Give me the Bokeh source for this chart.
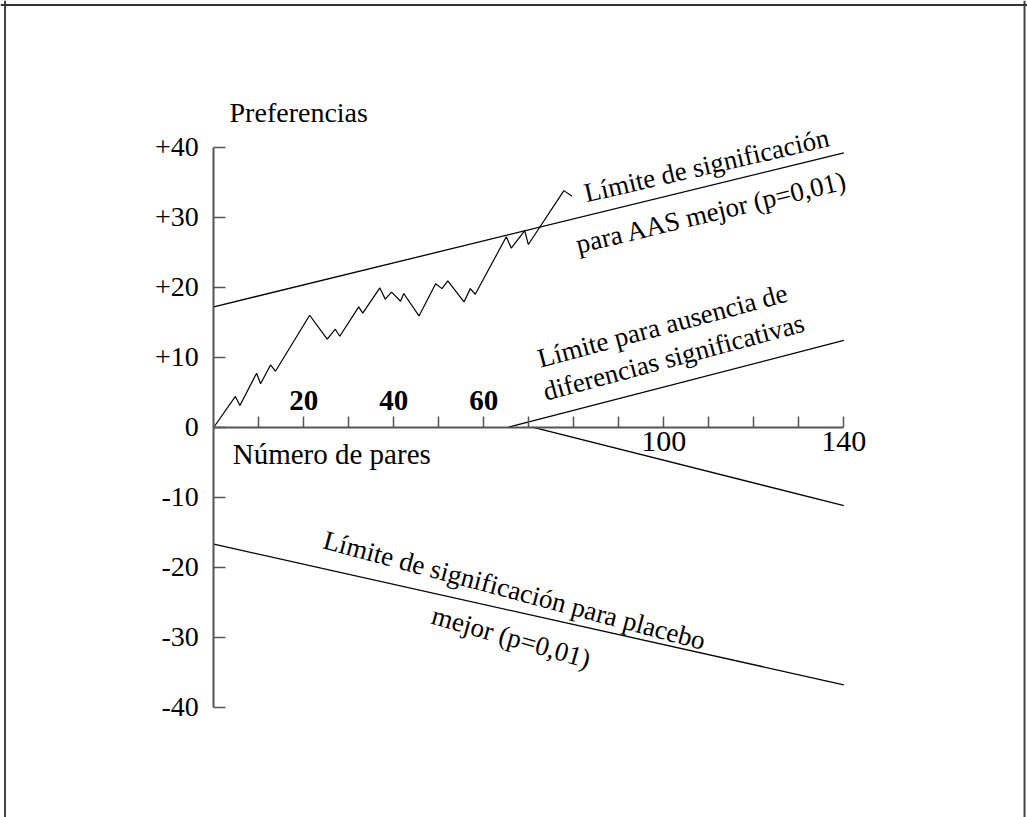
from bokeh.plotting import figure
from bokeh.models import Range1d, LinearAxis, FixedTicker, Span
from bokeh.core.properties import value
from bokeh.embed import file_html
from bokeh.resources import INLINE

# ---- data ----
walk_x = [0, 4.8, 5.8, 9.5, 10.4, 12.6, 13.7, 21.3, 25.2, 27.0, 28.0, 32.2, 33.1,
          36.9, 38.1, 39.5, 41.5, 42.2, 45.6, 49.3, 50.7, 52.0, 55.6, 57.0, 58.1,
          65.0, 66.1, 69.1, 69.9, 77.8, 79.6]
walk_y = [0, 4.4, 3.1, 7.7, 6.2, 8.9, 8.0, 16.0, 12.6, 14.0, 13.0, 17.2, 16.3,
          19.9, 18.3, 19.3, 18.0, 19.1, 15.9, 20.5, 19.8, 20.9, 17.9, 19.8, 19.0,
          27.2, 25.6, 28.1, 26.1, 33.8, 33.0]

upper_x = [0, 140]
upper_y = [17.2, 39.2]
lower_x = [0, 140]
lower_y = [-16.7, -36.8]
mid_up_x = [65.5, 140]
mid_up_y = [0, 12.4]
mid_dn_x = [70.8, 140]
mid_dn_y = [0, -11.2]

x_ticks = [10, 20, 30, 40, 50, 60, 70, 80, 90, 100, 110, 120, 130, 140]
x_labels_below = [100, 140]
x_labels_above = [20, 40, 60]
y_ticks = [-40, -30, -20, -10, 0, 10, 20, 30, 40]
y_labels = ["-40", "-30", "-20", "-10", "0", "+10", "+20", "+30", "+40"]

# rotated annotations: text, x, y, angle (deg)
notes_text = ["Límite de significación", "para AAS mejor (p=0,01)",
              "Límite para ausencia de", "diferencias significativas",
              "Límite de significación para placebo", "mejor (p=0,01)"]
notes_x = [109.5, 110.6, 99.7, 102.2, 66.8, 66.1]
notes_y = [37.4, 30.7, 14.5, 10.0, -23.3, -30.0]
notes_angle = [13.0, 13.5, 15.0, 15.0, -15.0, -16.0]

FONT = "Liberation Serif"
AX = "#555555"

x_start, x_end = -47.4, 180.82
y_start, y_end = -55.75, 60.96

p = figure(width=1027, height=817, output_backend="svg", toolbar_location=None,
           x_range=Range1d(x_start, x_end), y_range=Range1d(y_start, y_end),
           x_axis_type=None, y_axis_type=None, min_border=0)
p.outline_line_color = None
p.background_fill_color = "white"
p.border_fill_color = "white"

# frame border (top, left, right)
p.add_layout(Span(location=x_start + 1.0, dimension="height", line_color="#444444", line_width=2))
p.add_layout(Span(location=x_end - 0.66, dimension="height", line_color="#444444", line_width=2))
p.add_layout(Span(location=y_end - 0.64, dimension="width", line_color="#333333", line_width=2))

# axes crossing at origin
xa = LinearAxis(fixed_location=0, bounds=(0, 140), ticker=FixedTicker(ticks=x_ticks),
                major_label_overrides={t: (str(t) if t in x_labels_below else "") for t in x_ticks})
xa.major_tick_in = 11
xa.major_tick_out = 0
xa.minor_tick_in = 0
xa.minor_tick_out = 0
xa.axis_line_color = AX
xa.axis_line_width = 2
xa.major_tick_line_color = AX
xa.major_tick_line_width = 1.5
xa.major_label_standoff = 5
xa.major_label_text_font = FONT
xa.major_label_text_font_size = "30px"
xa.major_label_text_color = "black"
p.add_layout(xa, "below")

xa2 = LinearAxis(fixed_location=0, ticker=FixedTicker(ticks=x_labels_above))
xa2.axis_line_color = None
xa2.major_tick_line_color = None
xa2.minor_tick_line_color = None
xa2.major_label_standoff = 11
xa2.major_label_text_font = FONT
xa2.major_label_text_font_size = "29px"
xa2.major_label_text_font_style = "bold"
xa2.major_label_text_color = "black"
p.add_layout(xa2, "above")

ya = LinearAxis(fixed_location=0, bounds=(-40, 40), ticker=FixedTicker(ticks=y_ticks),
                major_label_overrides={t: l for t, l in zip(y_ticks, y_labels)})
ya.major_tick_in = 12
ya.major_tick_out = 0
ya.minor_tick_in = 0
ya.minor_tick_out = 0
ya.axis_line_color = AX
ya.axis_line_width = 2
ya.major_tick_line_color = AX
ya.major_tick_line_width = 1.5
ya.major_label_standoff = 15
ya.major_label_text_font = FONT
ya.major_label_text_font_size = "28px"
ya.major_label_text_color = "black"
p.add_layout(ya, "left")

# boundary lines
for xs, ys in [(upper_x, upper_y), (lower_x, lower_y), (mid_up_x, mid_up_y), (mid_dn_x, mid_dn_y)]:
    p.line(xs, ys, line_color="black", line_width=1.3)

# cumulative preference walk
p.line(walk_x, walk_y, line_color="black", line_width=1.2)

# axis titles
p.text(x=[3.5], y=[45.0], text=["Preferencias"], text_font=value(FONT),
       text_font_size="28px", text_align="left", text_baseline="alphabetic", text_color="black")
p.text(x=[4.2], y=[-3.8], text=["Número de pares"], text_font=value(FONT),
       text_font_size="29px", text_align="left", text_baseline="alphabetic", text_color="black")

# rotated annotations
p.text(x=notes_x, y=notes_y, text=notes_text, angle=notes_angle, angle_units="deg",
       text_font=value(FONT), text_font_size="27px", text_align="center",
       text_baseline="middle", text_color="black")

open("out.html", "w").write(file_html(p, INLINE))
